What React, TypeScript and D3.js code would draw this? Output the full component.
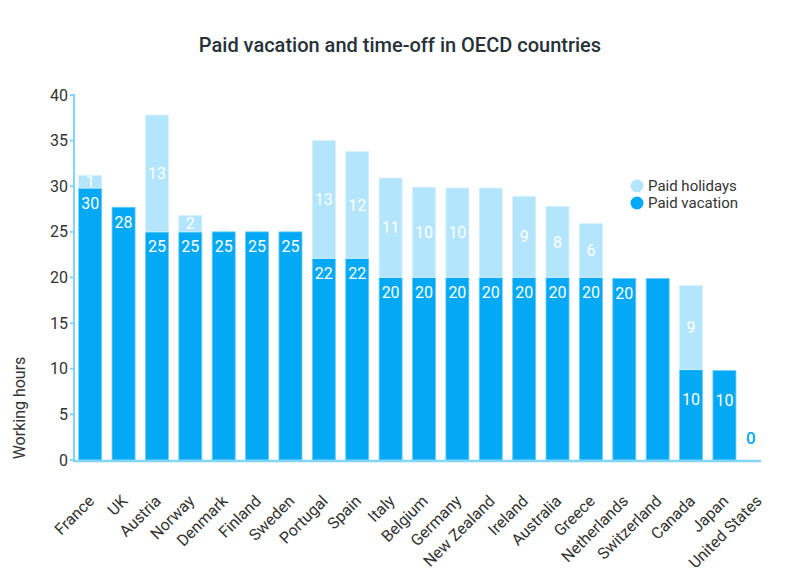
import React from 'react';
import * as d3 from 'd3';

// values (hours)
const countries = [
    'France', 'UK', 'Austria', 'Norway', 'Denmark', 'Finland', 'Sweden',
    'Portugal', 'Spain', 'Italy', 'Belgium', 'Germany', 'New Zealand', 'Ireland',
    'Australia', 'Greece', 'Netherlands', 'Switzerland', 'Canada', 'Japan', 'United States',
];
const paidVacation = [29.8, 27.7, 25, 25, 25, 25, 25, 22.1, 22.1, 20, 20, 20, 20, 20, 20, 20, 19.9, 19.9, 9.9, 9.8, 0];
const paidHolidays = [1.4, 0, 12.8, 1.8, 0, 0, 0, 12.9, 11.7, 10.9, 9.9, 9.8, 9.8, 8.9, 7.8, 5.9, 0, 0, 9.2, 0, 0];
const yTicks = [0, 5, 10, 15, 20, 25, 30, 35, 40];
// labels the original chart leaves out
const unlabeled = ['holidays:New Zealand', 'vacation:Switzerland'];

const VACATION = '#03a9f4';
const HOLIDAYS = '#b3e5fc';
const AXIS = '#81d4fa';
const TEXT = '#333';

const App: React.FC = () => {
    const width = 800;
    const height = 581;

    const x = d3.scaleBand<string>()
        .domain(countries)
        .range([74, 774])
        .paddingInner(0.31)
        .paddingOuter(0.14);

    const y = d3.scaleLinear()
        .domain([0, 40])
        .range([460, 95]);

    const bw = x.bandwidth();
    const axisEnd = x.range()[1] - 13;

    return (
        <svg width={width} height={height} style={{ position: 'absolute', left: 0, top: 0, fontFamily: 'Roboto, sans-serif' }}>
            <text x={400} y={52} textAnchor="middle" fontSize={20} fontWeight={500} fill="#263238">
                Paid vacation and time-off in OECD countries
            </text>

            {/* bars */}
            {countries.map((c, i) => {
                const x0 = x(c) || 0;
                const v = paidVacation[i];
                const h = paidHolidays[i];
                const vTop = y(v);
                const hTop = y(v + h);
                const vh = y(0) - vTop;
                const vOffset = vh < 120 ? vh / 3 : 15;
                return (
                    <g key={c}>
                        {v > 0 && (
                            <rect x={x0} y={vTop} width={bw} height={vh}
                                fill={VACATION} stroke="#6fcdf8" strokeWidth={0.8} />
                        )}
                        {h > 0 && (
                            <rect x={x0} y={hTop} width={bw} height={vTop - hTop}
                                fill={HOLIDAYS} stroke="#d6f1fd" strokeWidth={0.8} />
                        )}
                        {v > 0 && !unlabeled.includes('vacation:' + c) && (
                            <text x={x0 + bw / 2} y={vTop + vOffset} dy="0.35em" textAnchor="middle"
                                fontSize={16} fill="#fff">
                                {Math.round(v)}
                            </text>
                        )}
                        {v === 0 && (
                            <text x={x0 + bw / 2 - 7} y={y(0) - 22} dy="0.35em" textAnchor="middle"
                                fontSize={17} fontWeight={500} fill={VACATION}>
                                0
                            </text>
                        )}
                        {h > 0 && !unlabeled.includes('holidays:' + c) && (
                            <text x={x0 + bw / 2} y={(vTop + hTop) / 2} dy="0.35em" textAnchor="middle"
                                fontSize={16} fill="#fff">
                                {Math.round(h)}
                            </text>
                        )}
                    </g>
                );
            })}

            {/* y axis */}
            <line x1={74} x2={74} y1={y(40) - 1} y2={y(0) + 1} stroke={AXIS} strokeWidth={2} />
            {yTicks.map(t => (
                <g key={t} transform={`translate(0,${y(t)})`}>
                    <line x1={70} x2={74} stroke={AXIS} strokeWidth={2} />
                    <text x={68} dy="0.35em" textAnchor="end" fontSize={16} fill={TEXT}>{t}</text>
                </g>
            ))}
            <text transform="translate(25,408) rotate(-90)" textAnchor="middle" fontSize={16} fill={TEXT}>
                Working hours
            </text>

            {/* x axis */}
            <line x1={73} x2={axisEnd} y1={y(0) + 1} y2={y(0) + 1} stroke={AXIS} strokeWidth={2.5} />
            {countries.map(c => (
                <text key={c}
                    transform={`translate(${(x(c) || 0) + bw / 2 + 5},${y(0) + 42}) rotate(-45)`}
                    textAnchor="end" fontSize={16} fill={TEXT}>
                    {c}
                </text>
            ))}

            {/* legend */}
            {[['Paid holidays', HOLIDAYS], ['Paid vacation', VACATION]].map(([label, col], i) => (
                <g key={label} transform={`translate(637,${186 + i * 17})`}>
                    <circle r={6.5} fill={col} />
                    <text x={11} dy="0.35em" fontSize={15} fill={TEXT}>{label}</text>
                </g>
            ))}
        </svg>
    );
};

export default App;
